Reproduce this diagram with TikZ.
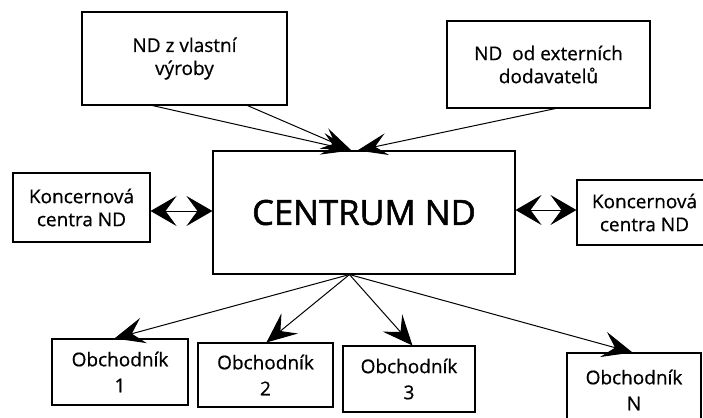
\documentclass[tikz,border=0pt]{standalone}
\usepackage{fontspec}
\setmainfont{Open Sans}[FakeBold=0.6]
\newfontfamily\centfont{Open Sans}[FakeBold=1.6]
\usetikzlibrary{arrows.meta}
\tikzset{
  box/.style={draw, line width=1.1pt, inner sep=0pt, align=center,
    font=\fontsize{19}{23}\selectfont},
  arr/.style={line width=1pt, -{Stealth[length=30pt,width=26pt,inset=12pt]}},
  toparr/.style={line width=1pt, -{Stealth[length=30pt,width=22pt,inset=12pt]}},
  dbl/.style={line width=1pt, {Stealth[length=26pt,width=30pt,inset=11pt]}-{Stealth[length=26pt,width=30pt,inset=11pt]}}
}
\begin{document}
\begin{tikzpicture}[x=1pt,y=-1pt]
\useasboundingbox (0,0) rectangle (703,417);
\clip (0,0) rectangle (703,417);
\fill[white] (0,0) rectangle (703,417);
% top boxes
\node[box, minimum width=205pt, minimum height=93pt] (t1) at (184.5,58.5) {ND z vlastní\\výroby};
\node[box, minimum width=203pt, minimum height=87pt] (t2) at (548.5,64.5) {ND\ \ od externích\\dodavatelů};
% centre
\node[box, minimum width=302pt, minimum height=123pt, font=\centfont\fontsize{34.5}{38}\selectfont] (c) at (364,212.5) {CENTRUM ND};
% side boxes
\node[box, minimum width=137pt, minimum height=69pt] (kl) at (81.5,207.5) {Koncernová\\centra ND};
\node[box, minimum width=135pt, minimum height=65pt] (kr) at (644.5,212.5) {Koncernová\\centra ND};
% bottom boxes
\node[box, minimum width=136pt, minimum height=66pt] (b1) at (120,372) {Obchodník\\[3pt]1};
\node[box, minimum width=135pt, minimum height=64pt] (b2) at (265.5,375) {Obchodník\\[3pt]2};
\node[box, minimum width=132pt, minimum height=66pt] (b3) at (409,379) {Obchodník\\[3pt]3};
\node[box, minimum width=134pt, minimum height=74pt] (bN) at (634,390) {Obchodník\\[3pt]N};
% top connectors
\draw[toparr] ([xshift=71pt]t1.south west) -- ([xshift=139pt]c.north west);
\draw[toparr] ([xshift=166pt]t1.south west) -- ([xshift=139pt]c.north west);
\draw[toparr] ([xshift=109pt]t2.south west) -- ([xshift=145pt]c.north west);
% side connectors
\draw[dbl] ([yshift=-3.5pt]kl.east) -- ([yshift=1.5pt]c.west);
\draw[dbl] ([yshift=2.5pt]c.east) -- ([yshift=2.5pt]kr.west);
% bottom connectors
\draw[arr] ([xshift=137pt]c.south west) -- ([xshift=63pt]b1.north west);
\draw[arr] ([xshift=137pt]c.south west) -- ([xshift=69pt]b2.north west);
\draw[arr] ([xshift=137pt]c.south west) -- ([xshift=70pt]b3.north west);
\draw[arr] ([xshift=137pt]c.south west) -- ([xshift=66pt]bN.north west);
\end{tikzpicture}
\end{document}
